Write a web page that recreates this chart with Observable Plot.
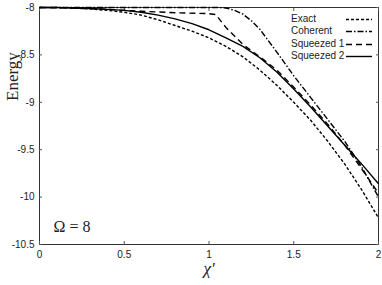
<!DOCTYPE html>
<html>
<head>
<meta charset="utf-8">
<script src="https://cdn.jsdelivr.net/npm/d3@7"></script>
<script src="https://cdn.jsdelivr.net/npm/@observablehq/plot@0.6"></script>
<style>
  html, body { margin: 0; padding: 0; background: #fff; }
  #wrap { position: relative; width: 382px; height: 285px; }
  #legend { position: absolute; left: 291px; top: 13px; font: 10px "Liberation Sans", Arial, sans-serif; color: #222; }
  #legend .row { position: relative; height: 12.4px; line-height: 12.4px; white-space: nowrap; }
  #legend svg { position: absolute; left: 55px; top: 5px; }
</style>
</head>
<body>
<div id="wrap"></div>
<script>
// ---- data ----
const seriesNames = ["Exact", "Coherent", "Squeezed 1", "Squeezed 2"];

const exactX = [0, 0.1, 0.2, 0.3, 0.4, 0.5, 0.6, 0.7, 0.8, 0.9, 1.0, 1.1, 1.2, 1.3, 1.4, 1.5, 1.6, 1.7, 1.8, 1.9, 2.0];
const exactE = [-8, -8, -8.005, -8.015, -8.03, -8.05, -8.08, -8.13, -8.19, -8.25, -8.32, -8.41, -8.52, -8.66, -8.82, -9.0, -9.19, -9.41, -9.65, -9.92, -10.22];

const coherentX = [0, 0.5, 1.0, 1.05, 1.1, 1.15, 1.2, 1.25, 1.3, 1.4, 1.5, 1.6, 1.7, 1.8, 1.9, 2.0];
const coherentE = [-8, -8, -8, -8, -8.005, -8.03, -8.07, -8.14, -8.23, -8.47, -8.72, -8.95, -9.18, -9.41, -9.68, -10.0];

const squeezed1X = [0, 0.2, 0.4, 0.6, 0.8, 1.0, 1.04, 1.1, 1.2, 1.3, 1.4, 1.5, 1.6, 1.7, 1.8, 1.9, 2.0];
const squeezed1E = [-8, -8.005, -8.02, -8.04, -8.055, -8.065, -8.075, -8.21, -8.39, -8.52, -8.66, -8.84, -9.03, -9.23, -9.45, -9.7, -9.96];

const squeezed2X = [0, 0.1, 0.2, 0.3, 0.4, 0.5, 0.6, 0.7, 0.8, 0.9, 1.0, 1.1, 1.2, 1.3, 1.4, 1.5, 1.6, 1.7, 1.8, 1.9, 2.0];
const squeezed2E = [-8, -8, -8.005, -8.01, -8.02, -8.03, -8.05, -8.08, -8.12, -8.17, -8.235, -8.32, -8.41, -8.53, -8.68, -8.86, -9.05, -9.25, -9.45, -9.65, -9.86];

const xTicks = [0, 0.5, 1, 1.5, 2];
const yTicks = [-8, -8.5, -9, -9.5, -10, -10.5];
const xLabel = "χ′";
const yLabel = "Energy";
const annotation = "Ω = 8";

// ---- styles ----
const dashes = ["3,2", "6,2,1.5,2", "6,4", null];

const toRows = (xs, ys, name) => xs.map((x, i) => ({x, y: ys[i], name}));
const allSeries = [
  toRows(exactX, exactE, seriesNames[0]),
  toRows(coherentX, coherentE, seriesNames[1]),
  toRows(squeezed1X, squeezed1E, seriesNames[2]),
  toRows(squeezed2X, squeezed2E, seriesNames[3])
];

const axisFont = {fontSize: 10, fontFamily: "Liberation Sans, Arial, sans-serif", fill: "#222"};

const plot = Plot.plot({
  width: 382,
  height: 285,
  marginLeft: 39,
  marginRight: 4,
  marginTop: 7,
  marginBottom: 41,
  style: {background: "#fff", overflow: "visible"},
  x: {domain: [0, 2]},
  y: {domain: [-10.5, -8]},
  marks: [
    Plot.frame({stroke: "#333", strokeWidth: 1}),
    Plot.axisX({anchor: "bottom", ticks: xTicks, tickSize: -3, tickPadding: 9, label: null, tickFormat: d => String(d), stroke: "#555", ...axisFont}),
    Plot.axisX({anchor: "top", ticks: xTicks, tickSize: -3, label: null, tickFormat: () => "", stroke: "#555"}),
    Plot.axisY({anchor: "left", ticks: yTicks, tickSize: -3, tickPadding: 8, label: null, tickFormat: d => String(d), stroke: "#555", ...axisFont}),
    Plot.axisY({anchor: "right", ticks: yTicks, tickSize: -3, label: null, tickFormat: () => "", stroke: "#555"}),
    ...allSeries.map((rows, i) => Plot.line(rows, {
      x: "x", y: "y", stroke: "#000", strokeWidth: 1.4,
      strokeDasharray: dashes[i] || undefined, strokeLinecap: "butt"
    })),
    Plot.text([annotation], {frameAnchor: "bottom-left", dx: 14, dy: -13, fontSize: 16, fontFamily: "Liberation Serif, serif", fill: "#222", textAnchor: "start"}),
    Plot.text([xLabel], {frameAnchor: "bottom", dy: 29, fontSize: 17, fontStyle: "italic", fontFamily: "Liberation Serif, serif", fill: "#222"}),
    Plot.text([yLabel], {frameAnchor: "left", dx: -27, dy: -25, rotate: -90, fontSize: 17, fontFamily: "Liberation Serif, serif", fill: "#222"})
  ]
});

const wrap = document.getElementById("wrap");
wrap.appendChild(plot);

// legend overlay
const legend = document.createElement("div");
legend.id = "legend";
seriesNames.forEach((name, i) => {
  const row = document.createElement("div");
  row.className = "row";
  row.textContent = name;
  const ns = "http://www.w3.org/2000/svg";
  const svg = document.createElementNS(ns, "svg");
  svg.setAttribute("width", 27);
  svg.setAttribute("height", 3);
  const ln = document.createElementNS(ns, "line");
  ln.setAttribute("x1", 0); ln.setAttribute("x2", 26);
  ln.setAttribute("y1", 1.5); ln.setAttribute("y2", 1.5);
  ln.setAttribute("stroke", "#000");
  ln.setAttribute("stroke-width", 1.4);
  if (dashes[i]) ln.setAttribute("stroke-dasharray", dashes[i]);
  svg.appendChild(ln);
  row.appendChild(svg);
  legend.appendChild(row);
});
wrap.appendChild(legend);
</script>
</body>
</html>
